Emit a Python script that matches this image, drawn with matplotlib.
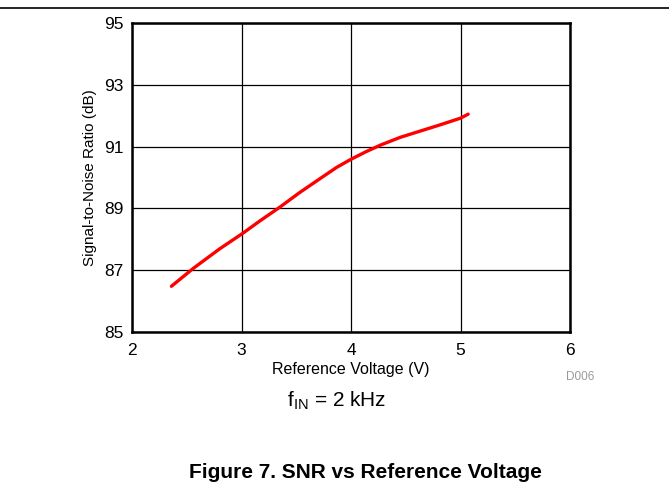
import matplotlib
matplotlib.use("Agg")
import matplotlib.pyplot as plt
from matplotlib.lines import Line2D

plt.rcParams['font.family'] = ['Liberation Sans', 'DejaVu Sans']
plt.rcParams['mathtext.fontset'] = 'custom'
plt.rcParams['mathtext.rm'] = 'Liberation Sans'

ref_voltage = [2.36, 2.56, 2.80, 3.01, 3.17, 3.35, 3.53, 3.72, 3.87, 4.00,
               4.14, 4.27, 4.45, 4.63, 4.81, 5.00, 5.07]
snr_db = [86.48, 87.06, 87.69, 88.19, 88.60, 89.04, 89.51, 89.97, 90.33, 90.59,
          90.84, 91.05, 91.30, 91.50, 91.70, 91.92, 92.05]
x_ticks = [2, 3, 4, 5, 6]
y_ticks = [85, 87, 89, 91, 93, 95]

W, H = 669, 493
fig = plt.figure(figsize=(W / 100, H / 100), dpi=100)
ax = fig.add_axes([132 / W, 1 - 332 / H, (570 - 132) / W, (332 - 23) / H])

ax.plot(ref_voltage, snr_db, color='#ff0000', lw=2.4, solid_capstyle='round',
        solid_joinstyle='round')
ax.set_xlim(2, 6)
ax.set_ylim(85, 95)
ax.set_xticks(x_ticks)
ax.set_yticks(y_ticks)
ax.grid(True, color='black', lw=0.9)
ax.set_axisbelow(True)
for s in ax.spines.values():
    s.set_linewidth(1.8)
ax.tick_params(length=0, labelsize=12.5)
ax.tick_params(axis='x', pad=8)
ax.tick_params(axis='y', pad=6)
ax.set_xlabel('Reference Voltage (V)', fontsize=11.5, labelpad=3)
ax.set_ylabel('Signal-to-Noise Ratio (dB)', fontsize=11, labelpad=5)

fig.text(580 / W, 1 - 377 / H, 'D006', fontsize=8.5, color='#999999', ha='center', va='center')
fig.text(337 / W, 1 - 401 / H, r'f$_{\mathregular{IN}}$ = 2 kHz', fontsize=15, ha='center', va='center')
fig.text(365 / W, 1 - 472 / H, 'Figure 7. SNR vs Reference Voltage', fontsize=15,
         fontweight='bold', ha='center', va='center')
fig.add_artist(Line2D([0, 1], [1 - 8 / H, 1 - 8 / H], color='black', lw=1.2,
                      transform=fig.transFigure))

fig.savefig('out.png', dpi=100)
